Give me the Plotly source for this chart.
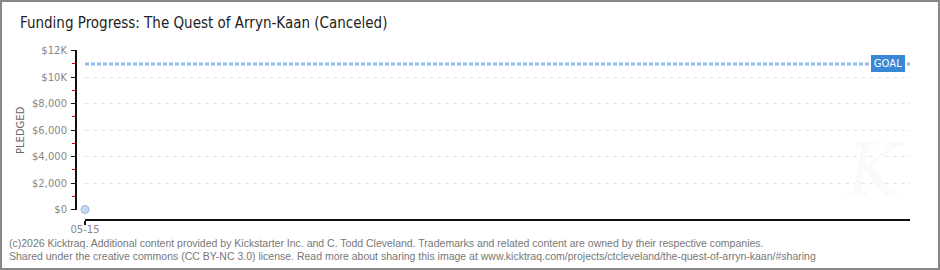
import plotly.graph_objects as go

# ---- data ----
day_index = [0]
day_labels = ["05-15"]
pledged = [0]
goal = 11000
y_tickvals = [0, 2000, 4000, 6000, 8000, 10000, 12000]
y_ticktext = ["$0", "$2,000", "$4,000", "$6,000", "$8,000", "$10K", "$12K"]
x_span_days = 30

W, H = 940, 270
ML, MR, MT, MB = 76, 30, 50, 50
PW = W - ML - MR
PH = H - MT - MB

def px_x(p):
    return (p - ML) / PW

def px_y(p):
    return (H - MB - p) / PH

fig = go.Figure()

fig.add_trace(go.Scatter(
    x=day_index, y=pledged, mode="markers",
    marker=dict(size=8, color="#c2daf4", line=dict(color="#9fb8d6", width=1)),
    cliponaxis=False, hoverinfo="skip", showlegend=False,
))

fig.update_layout(
    width=W, height=H,
    margin=dict(l=ML, r=MR, t=MT, b=MB),
    paper_bgcolor="white", plot_bgcolor="white",
    showlegend=False,
    title=dict(
        text="Funding Progress: The Quest of Arryn-Kaan (Canceled)",
        x=20 / W, xref="container", xanchor="left",
        y=1 - 23 / H, yref="container", yanchor="middle",
        font=dict(family="Liberation Sans Narrow, DejaVu Sans Condensed, Liberation Sans", size=15, color="#222"),
    ),
    xaxis=dict(
        domain=[9 / PW, 1],
        anchor="free", position=0,
        range=[0, x_span_days],
        tickvals=day_index, ticktext=day_labels,
        showgrid=True, gridcolor="#e4e4e4", griddash="4px,4px", gridwidth=1,
        zeroline=False,
        showline=True, linecolor="#111", linewidth=2,
        ticks="outside", ticklen=4, tickcolor="#111", tickwidth=2,
        tickfont=dict(family="DejaVu Sans", size=10, color="#888"),
        ticklabelstandoff=-4,
        fixedrange=True,
    ),
    yaxis=dict(
        domain=[10 / PH, 1],
        anchor="free", position=0,
        range=[-40, 12053],
        tickvals=y_tickvals, ticktext=y_ticktext,
        showgrid=True, gridcolor="#e4e4e4", griddash="4px,4px", gridwidth=1,
        zeroline=False,
        showline=True, linecolor="#111", linewidth=2,
        ticks="outside", ticklen=4, tickcolor="#111", tickwidth=1,
        minor=dict(dtick=1000, tick0=0, ticks="outside", ticklen=3, tickcolor="#e00000", showgrid=False),
        tickfont=dict(family="DejaVu Sans", size=10, color="#888"),
        ticklabelstandoff=2,
        fixedrange=True,
    ),
)

# goal line
fig.add_shape(type="line", xref="x domain", yref="y", x0=0, x1=1, y0=goal, y1=goal,
              line=dict(color="#8fbdec", width=3, dash="4px,2px"))
# outer border
fig.add_shape(type="rect", xref="paper", yref="paper",
              x0=px_x(1), x1=px_x(W - 1), y0=px_y(H - 1), y1=px_y(1),
              line=dict(color="#888", width=2))

fig.add_annotation(text="GOAL", xref="x domain", yref="y", x=(905 - ML - 9) / (PW - 9), y=goal,
                   xanchor="right", yanchor="middle", showarrow=False,
                   bgcolor="#3a87d8", bordercolor="#3a87d8", borderpad=2, width=28,
                   font=dict(family="DejaVu Sans", size=10, color="white"))
fig.add_annotation(text="PLEDGED", xref="paper", yref="paper", x=px_x(20), y=px_y(130),
                   xanchor="center", yanchor="middle", textangle=-90, showarrow=False,
                   font=dict(family="DejaVu Sans", size=10, color="#666"))
fig.add_annotation(text="(c)2026 Kicktraq. Additional content provided by Kickstarter Inc. and C. Todd Cleveland. Trademarks and related content are owned by their respective companies.",
                   xref="paper", yref="paper", x=px_x(7), y=px_y(243), xanchor="left", yanchor="middle",
                   showarrow=False, font=dict(family="Liberation Sans", size=10.5, color="#777"))
fig.add_annotation(text="Shared under the creative commons (CC BY-NC 3.0) license. Read more about sharing this image at www.kicktraq.com/projects/ctcleveland/the-quest-of-arryn-kaan/#sharing",
                   xref="paper", yref="paper", x=px_x(7), y=px_y(256), xanchor="left", yanchor="middle",
                   showarrow=False, font=dict(family="Liberation Sans", size=10.5, color="#777"))
fig.add_annotation(text="<i>K</i>", xref="paper", yref="paper", x=px_x(875), y=px_y(170),
                   xanchor="center", yanchor="middle", showarrow=False,
                   font=dict(family="DejaVu Serif", size=72, color="#fafafa"))

fig.write_html("out.html")
